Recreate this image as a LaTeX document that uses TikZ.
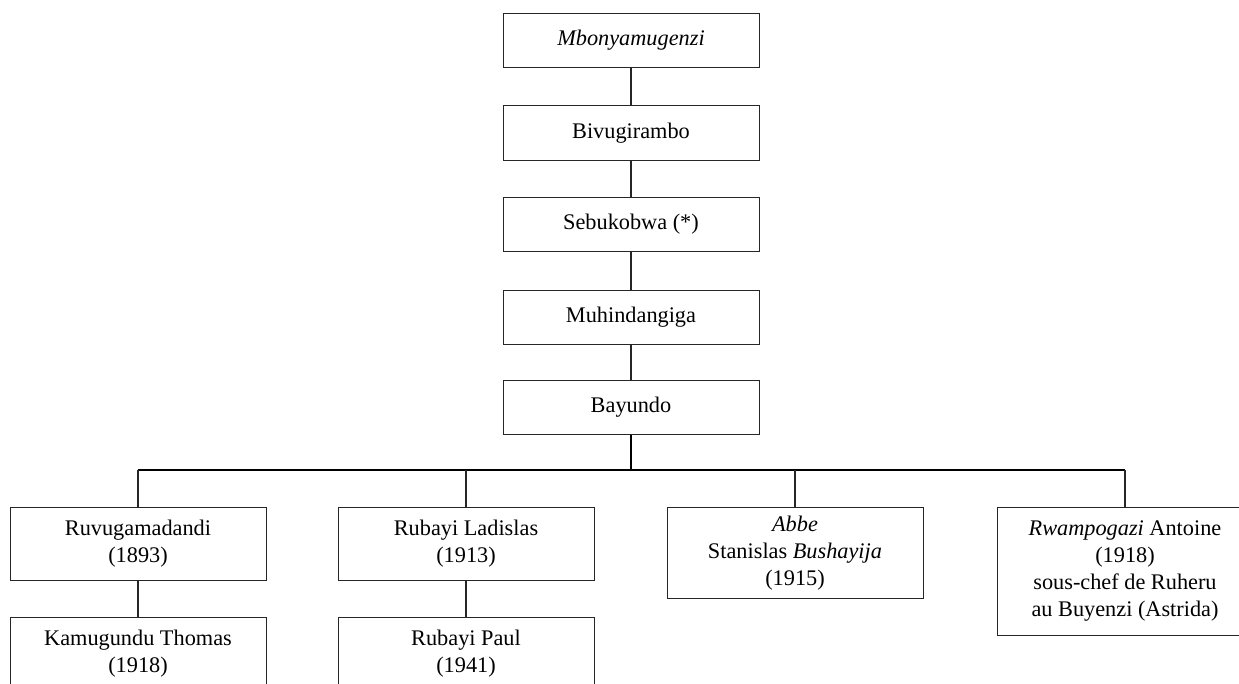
\documentclass[tikz,border=0pt]{standalone}
\usepackage{fontspec}
\setmainfont{Liberation Serif}
\begin{document}
\begin{tikzpicture}[x=1pt,y=-1pt,
  person/.style={draw=black!85,line width=1pt,rectangle,minimum width=256pt,
    inner sep=0pt,anchor=north,align=center,
    font=\fontsize{22.3}{27}\selectfont},
  link/.style={draw=black!85,line width=1.1pt},
  barline/.style={draw=black,line width=1.7pt}]
\useasboundingbox (0,0) rectangle (1239,683);
\clip (0,0) rectangle (1239,683);

% direct line of descent
\node[person,minimum height=54pt] (mbo) at (631,13) {\textit{Mbonyamugenzi}};
\node[person,minimum height=55pt] (biv) at (631,105) {Bivugirambo};
\node[person,minimum height=54pt] (seb) at (631,197) {Sebukobwa (*)};
\node[person,minimum height=54pt] (muh) at (631,290) {Muhindangiga};
\node[person,minimum height=54pt] (bay) at (631,380) {Bayundo};

% children of Bayundo
\node[person,minimum height=73pt] (ruv) at (138,507) {Ruvugamadandi\\(1893)};
\node[person,minimum height=73pt] (lad) at (466,507) {Rubayi Ladislas\\(1913)};
\node[person,minimum height=91pt] (abb) at (795,507) {\textit{Abbe}\\Stanislas \textit{Bushayija}\\(1915)};
\node[person,minimum height=128pt] (rwa) at (1125,507) {\textit{Rwampogazi} Antoine\\(1918)\\sous-chef de Ruheru\\au Buyenzi (Astrida)};

% grandchildren
\node[person,minimum height=73pt] (kam) at (138,617) {Kamugundu Thomas\\(1918)};
\node[person,minimum height=73pt] (pau) at (466,617) {Rubayi Paul\\(1941)};

\draw[link] (mbo.south) -- (biv.north);
\draw[link] (biv.south) -- (seb.north);
\draw[link] (seb.south) -- (muh.north);
\draw[link] (muh.south) -- (bay.north);

\coordinate (fork) at (631,470);
\draw[barline] (bay.south) -- (fork);
\draw[barline] (ruv.north |- fork) -- (rwa.north |- fork);
\draw[link] (ruv.north |- fork) -- (ruv.north);
\draw[link] (lad.north |- fork) -- (lad.north);
\draw[link] (abb.north |- fork) -- (abb.north);
\draw[link] (rwa.north |- fork) -- (rwa.north);

\draw[link] (ruv.south) -- (kam.north);
\draw[link] (lad.south) -- (pau.north);
\end{tikzpicture}
\end{document}
